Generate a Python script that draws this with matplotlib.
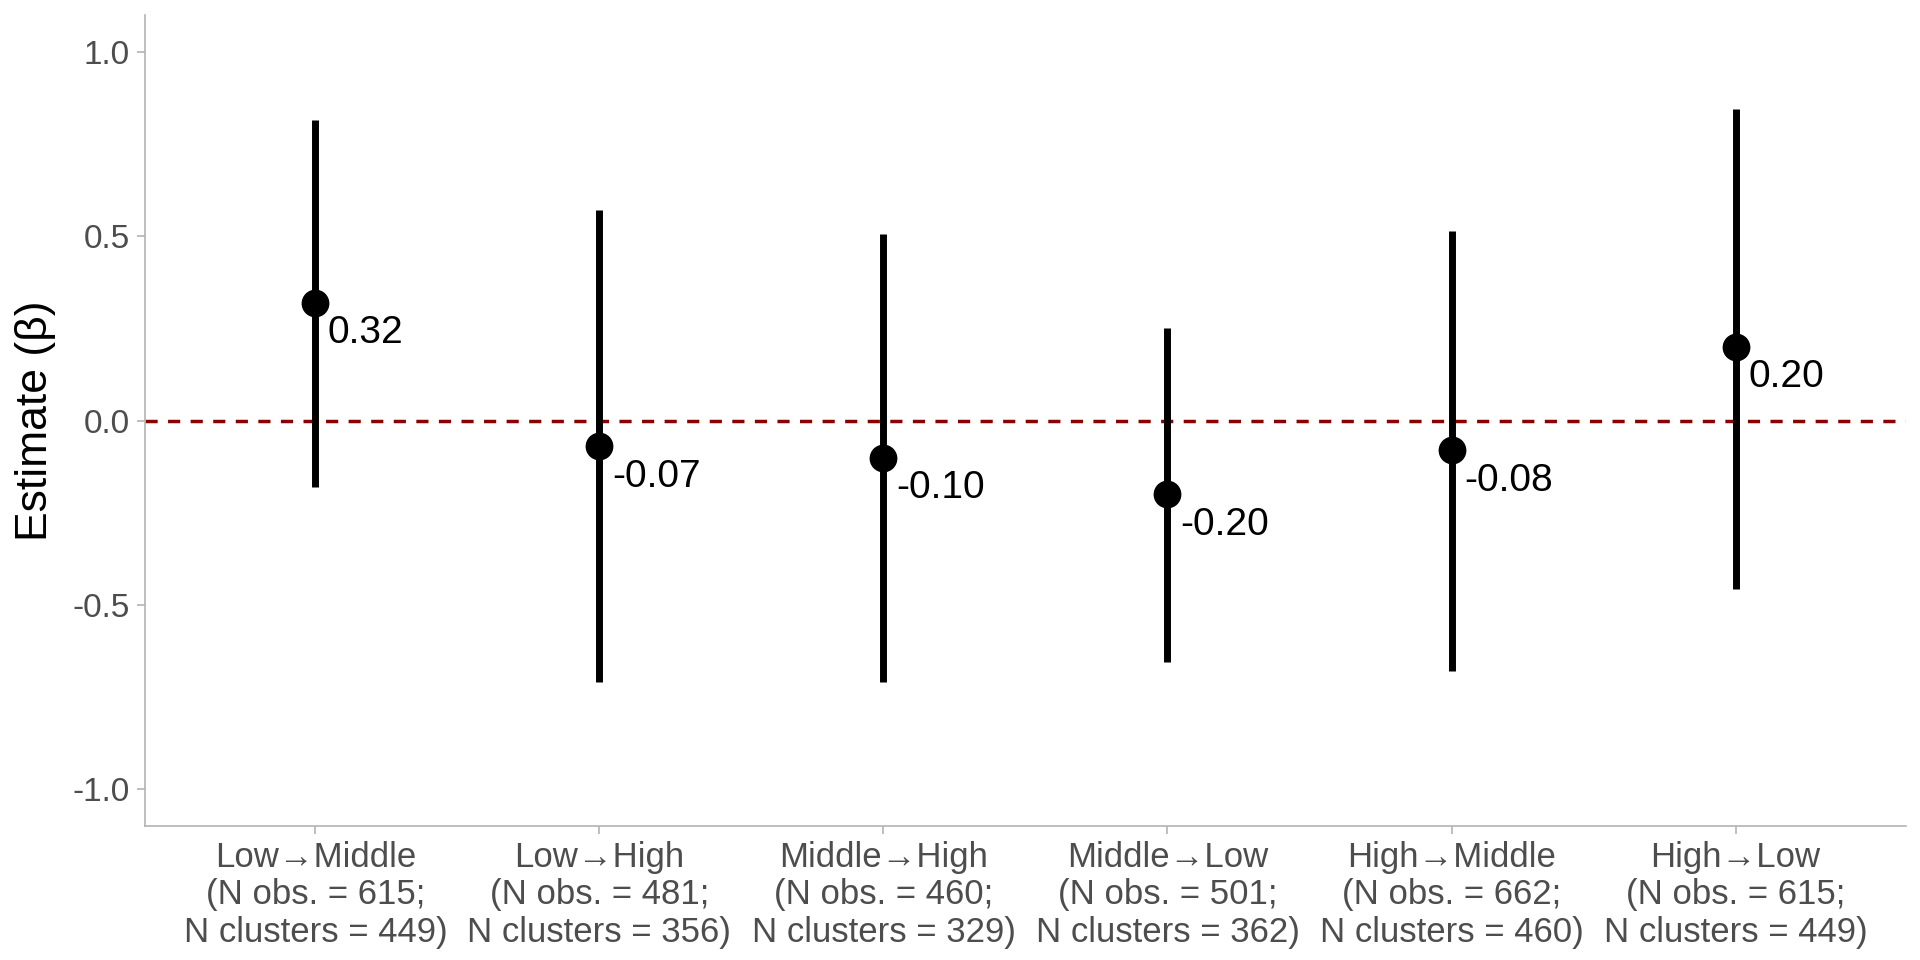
import numpy as np
import matplotlib
matplotlib.use('Agg')
import matplotlib.pyplot as plt

plt.rcParams['font.family'] = ['Liberation Sans', 'DejaVu Sans']

# Data
transitions = ['Low→Middle', 'Low→High', 'Middle→High', 'Middle→Low', 'High→Middle', 'High→Low']
n_obs = [615, 481, 460, 501, 662, 615]
n_clusters = [449, 356, 329, 362, 460, 449]
estimate = [0.32, -0.07, -0.10, -0.20, -0.08, 0.20]
ci_low = [-0.18, -0.71, -0.71, -0.655, -0.68, -0.457]
ci_high = [0.817, 0.572, 0.506, 0.251, 0.516, 0.847]

labels = [t + '\n(N obs. = %d;\nN clusters = %d)' % (o, c)
          for t, o, c in zip(transitions, n_obs, n_clusters)]
x = np.arange(1, len(transitions) + 1)

fig = plt.figure(figsize=(19.2, 9.6), dpi=100)
ax = fig.add_axes([0.0755, 0.1396, 0.9172, 0.8444])

#Zero reference line
ax.axhline(0, color='#8B0000', lw=2.5, ls=(0, (3.5, 3)), zorder=1)

#Confidence intervals and point estimates
ax.vlines(x, ci_low, ci_high, color='black', lw=5, zorder=2)
ax.plot(x, estimate, 'o', color='black', ms=19, zorder=3)

for xi, est in zip(x, estimate):
    ax.annotate('%.2f' % est, (xi, est), xytext=(9, -9), textcoords='offset points',
                ha='left', va='top', fontsize=28, color='black')

ax.set_xlim(0.4, 6.6)
ax.set_ylim(-1.1, 1.1)
ax.set_yticks([-1.0, -0.5, 0.0, 0.5, 1.0])
ax.set_yticklabels(['-1.0', '-0.5', '0.0', '0.5', '1.0'])
ax.set_xticks(x)
ax.set_xticklabels(labels, linespacing=1.16)
ax.set_ylabel('Estimate (β)', fontsize=32, color='black', labelpad=12)

for side in ['top', 'right']:
    ax.spines[side].set_visible(False)
for side in ['left', 'bottom']:
    ax.spines[side].set_color('#B3B3B3')
    ax.spines[side].set_linewidth(1.2)
ax.tick_params(axis='both', colors='#B3B3B3', length=6, width=1.2, labelsize=24,
               labelcolor='#4D4D4D', pad=5)
ax.tick_params(axis='x', labelsize=25)

fig.savefig('out.png', dpi=100)
